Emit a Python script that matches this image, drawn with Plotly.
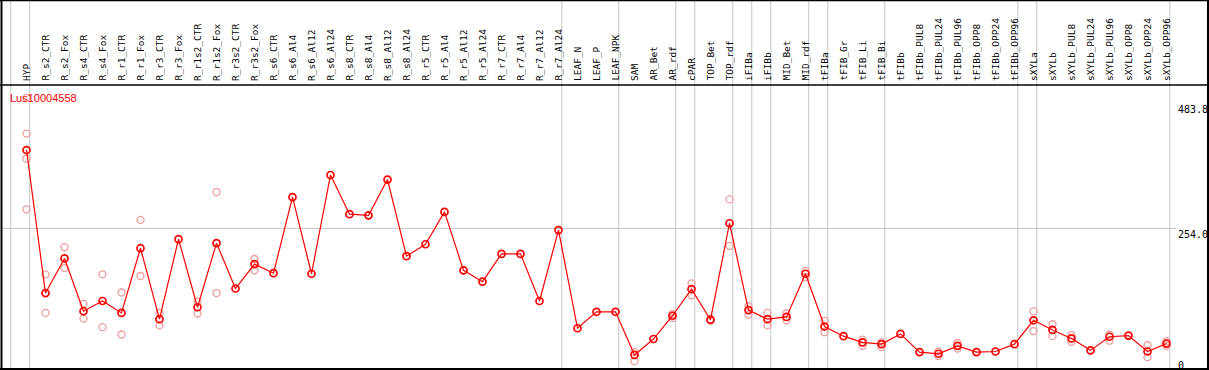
import plotly.graph_objects as go

W, H = 1209, 370

categories = ["HYP", "R_s2_CTR", "R_s2_Fox", "R_s4_CTR", "R_s4_Fox", "R_r1_CTR", "R_r1_Fox",
              "R_r3_CTR", "R_r3_Fox", "R_r1s2_CTR", "R_r1s2_Fox", "R_r3s2_CTR", "R_r3s2_Fox",
              "R_s6_CTR", "R_s6_Al4", "R_s6_Al12", "R_s6_Al24", "R_s8_CTR", "R_s8_Al4", "R_s8_Al12",
              "R_s8_Al24", "R_r5_CTR", "R_r5_Al4", "R_r5_Al12", "R_r5_Al24", "R_r7_CTR", "R_r7_Al4",
              "R_r7_Al12", "R_r7_Al24", "LEAF_N", "LEAF_P", "LEAF_NPK", "SAM", "AR_Bet", "AR_rdf",
              "cPAR", "TOP_Bet", "TOP_rdf", "iFIBa", "iFIBb", "MID_Bet", "MID_rdf", "tFIBa",
              "tFIB_Gr", "tFIB_Li", "tFIB_Bi", "tFIBb", "tFIBb_PUL8", "tFIBb_PUL24", "tFIBb_PUL96",
              "tFIBb_OPP8", "tFIBb_OPP24", "tFIBb_OPP96", "sXYLa", "sXYLb", "sXYLb_PUL8",
              "sXYLb_PUL24", "sXYLb_PUL96", "sXYLb_OPP8", "sXYLb_OPP24", "sXYLb_OPP96"]

mean_values = [392, 140, 201, 108, 126, 105, 219, 94, 235, 115, 228, 148, 191, 175, 309,
               174, 348, 279, 277, 340, 205, 226, 283, 180, 160, 209, 209, 126, 251, 78,
               107, 107, 31, 59, 100, 147, 93, 263, 110, 94, 98, 174, 81, 64, 53, 50,
               68, 36, 33, 47, 36, 37, 50, 92, 75, 60, 39, 63, 65, 37, 51]

N = None
rep1 = [483.8, 173, 221, 121, 173, 141, 269, 105, N, 125, 318, N, 200, N, N,
        N, N, N, N, N, N, N, N, N, N, N, N, N, N, N,
        N, N, 36, N, 103, 157, 94, 305, 117, 105, 104, 179, 91, N, 58, 53,
        N, N, 37, 52, N, N, N, 108, 85, 66, N, 67, N, 48, 55]
rep2 = [287.6, 105, 184, 95, 80, 67, 170, 83, N, 104, 140, N, 180, N, N,
        N, N, N, N, N, N, N, N, N, N, N, N, N, N, N,
        N, N, 20, N, 96, 136, 91, 223, 102, 83, 92, 168, 71, N, 47, 45,
        N, N, 29, 42, N, N, N, 73, 64, 54, N, 56, N, 27, 47]
rep3 = [421] + [N] * 60
rep4 = [377] + [N] * 60

group_ends = [-1, 0, 28, 31, 34, 35, 37, 38, 39, 41, 42, 45, 52, 53, 60]
y_ticks = [483.8, 254.0, 0]
y_tick_text = ["483.8", "254.0", "0"]
title = "Lus10004558"

# pixel mapping
X0, DX = 26.5, 19.0
x_lo = -X0 / DX
x_hi = x_lo + W / DX
Y0, SY = 372.5, 0.5675
y_lo = (Y0 - H) / SY
y_hi = Y0 / SY

def py(px):
    return (H - px) / H

def px_x(px):
    return px / W

xs = list(range(len(categories)))

fig = go.Figure()
rep_color = "#ec9c9c"
for reps in (rep1, rep2, rep3, rep4):
    fig.add_trace(go.Scatter(
        x=xs, y=reps, mode="markers", cliponaxis=False,
        marker=dict(symbol="circle-open", size=7, color=rep_color, line=dict(width=1.3, color=rep_color)),
        hoverinfo="skip", showlegend=False))

fig.add_trace(go.Scatter(
    x=xs, y=mean_values, mode="lines+markers", cliponaxis=False,
    line=dict(color="#ff0000", width=1.2),
    marker=dict(symbol="circle-open", size=7, color="#ff0000", line=dict(width=1.7, color="#ff0000")),
    showlegend=False))

shapes = []
grid = "#c4c4c4"
for g in group_ends:
    xv = g + 4.2 / DX - 0.05
    shapes.append(dict(type="line", xref="x", yref="paper", x0=xv, x1=xv, y0=0, y1=1,
                       line=dict(color=grid, width=1), layer="below"))
# horizontal gridline
shapes.append(dict(type="line", xref="paper", yref="y", x0=0, x1=px_x(1176), y0=254.0, y1=254.0,
                   line=dict(color=grid, width=1), layer="below"))
# borders
blk = "#000000"
shapes.append(dict(type="line", xref="paper", yref="paper", x0=0, x1=1, y0=py(85), y1=py(85),
                   line=dict(color=blk, width=1.5)))
shapes.append(dict(type="line", xref="paper", yref="paper", x0=0, x1=1, y0=py(0.5), y1=py(0.5),
                   line=dict(color=blk, width=1.5)))
shapes.append(dict(type="line", xref="paper", yref="paper", x0=0, x1=1, y0=py(369), y1=py(369),
                   line=dict(color=blk, width=2)))
shapes.append(dict(type="line", xref="paper", yref="paper", x0=px_x(1.5), x1=px_x(1.5), y0=0, y1=1,
                   line=dict(color=blk, width=2)))
shapes.append(dict(type="line", xref="paper", yref="paper", x0=px_x(1208), x1=px_x(1208), y0=0, y1=1,
                   line=dict(color=blk, width=2)))

annotations = []
for i, c in enumerate(categories):
    annotations.append(dict(x=i, xref="x", y=py(82), yref="paper", text=c, textangle=-90,
                            showarrow=False, xanchor="center", yanchor="bottom",
                            font=dict(family="DejaVu Sans Mono", size=9.5, color="#000000"),
                            borderpad=0))
tick_tops = [103, 228, 359]
for t, tt, tp in zip(y_ticks, y_tick_text, tick_tops):
    annotations.append(dict(x=px_x(1177), xref="paper", y=py(tp), yref="paper", text=tt,
                            showarrow=False, xanchor="left", yanchor="top",
                            font=dict(family="DejaVu Sans Mono", size=10, color="#000000"),
                            borderpad=0))
annotations.append(dict(x=px_x(9), xref="paper", y=py(91), yref="paper", text=title,
                        showarrow=False, xanchor="left", yanchor="top",
                        font=dict(family="Liberation Sans", size=11, color="#ff0000"),
                        borderpad=0))

fig.update_layout(
    width=W, height=H, margin=dict(l=0, r=0, t=0, b=0),
    paper_bgcolor="white", plot_bgcolor="white",
    xaxis=dict(range=[x_lo, x_hi], visible=False, fixedrange=True),
    yaxis=dict(range=[y_lo, y_hi], visible=False, fixedrange=True),
    shapes=shapes, annotations=annotations, showlegend=False,
)

fig.write_html("out.html", config={"displayModeBar": False},
               post_script="document.body.style.margin='0';document.body.style.overflow='hidden';")
